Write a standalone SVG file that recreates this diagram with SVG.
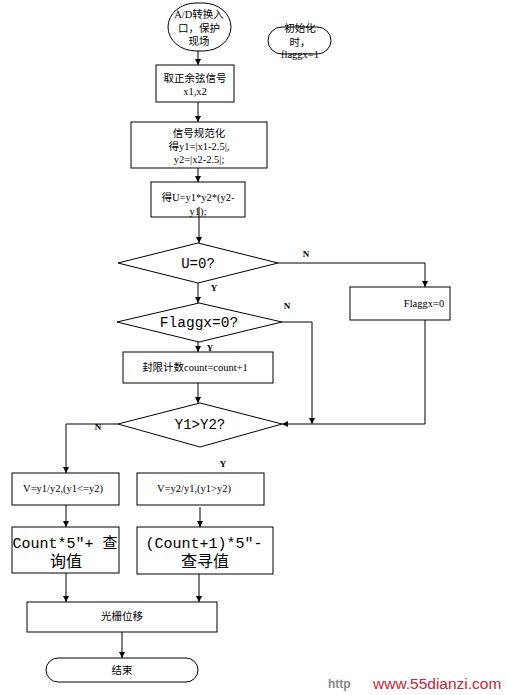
<svg xmlns="http://www.w3.org/2000/svg" width="508" height="695" viewBox="0 0 508 695">
<defs>
<marker id="ah" viewBox="0 0 10 10" refX="10" refY="5" markerWidth="6" markerHeight="9" markerUnits="userSpaceOnUse" orient="auto">
<path d="M0,0 L10,5 L0,10 z" fill="#000"/>
</marker>
<style>
.s{fill:#fff;stroke:#000;stroke-width:1}
.t{font-family:"Liberation Serif","Noto Sans CJK SC",serif;font-size:10.5px;fill:#000;text-anchor:middle}
.m{font-family:"Liberation Mono","Noto Sans CJK SC",monospace;fill:#000;text-anchor:middle}
.l{font-family:"Liberation Serif",serif;font-size:9px;font-weight:bold;fill:#000;text-anchor:middle}
.c{fill:none;stroke:#000;stroke-width:1}
</style>
</defs>
<rect width="508" height="695" fill="#fff"/>

<g id="start">
<rect class="s" x="168" y="3" width="63" height="48" rx="28" ry="24"/>
<text class="t" x="199" y="18">A/D转换入</text>
<text class="t" x="199" y="32">口，保护</text>
<text class="t" x="199" y="45">现场</text>
</g>

<g id="init">
<rect class="s" x="268" y="27" width="63" height="27" rx="14" ry="13.5"/>
<text class="t" x="300" y="32">初始化</text>
<text class="t" x="300" y="46">时，</text>
<text class="t" x="300" y="58">flaggx=1</text>
</g>

<g id="box1">
<rect class="s" x="156" y="65" width="78" height="37"/>
<text class="t" x="195" y="82">取正余弦信号</text>
<text class="t" x="195" y="95">x1,x2</text>
</g>

<g id="box2">
<rect class="s" x="131" y="122" width="136" height="46"/>
<text class="t" x="199" y="137">信号规范化</text>
<text class="t" x="199" y="150">得y1=|x1-2.5|,</text>
<text class="t" x="199" y="163">y2=|x2-2.5|;</text>
</g>

<g id="box3">
<rect class="s" x="151" y="182" width="94" height="35"/>
<text class="t" x="198" y="201">得U=y1*y2*(y2-</text>
<text class="t" x="198" y="215">y1);</text>
</g>

<g id="dec1">
<polygon class="s" points="198,243 278,263 198,283 118,263"/>
<text class="m" x="198" y="268" font-size="14">U=0?</text>
</g>

<g id="flagbox">
<rect class="s" x="350" y="287" width="100" height="33"/>
<text class="t" x="424" y="307">Flaggx=0</text>
</g>

<g id="dec2">
<polygon class="s" points="199,303 282,322 199,342 117,322"/>
<text class="m" x="199" y="327" font-size="14.5">Flaggx=0?</text>
</g>

<g id="countbox">
<rect class="s" x="123" y="352" width="150" height="31"/>
<text class="t" x="195" y="371">封限计数count=count+1</text>
</g>

<g id="dec3">
<polygon class="s" points="200,403 282,424 200,447 118,424"/>
<text class="m" x="200" y="429" font-size="14">Y1&gt;Y2?</text>
</g>

<g id="vleft">
<rect class="s" x="12" y="473" width="107" height="32"/>
<text class="t" x="63" y="492" font-size="9.5">V=y1/y2,(y1&lt;=y2)</text>
</g>

<g id="vright">
<rect class="s" x="137" y="473" width="127" height="32"/>
<text class="t" x="194" y="492" font-size="9.5">V=y2/y1,(y1&gt;y2)</text>
</g>

<g id="cleft">
<rect class="s" x="12" y="527" width="107" height="46"/>
<text class="m" x="65" y="548" font-size="15">Count*5″+ 查</text>
<text class="m" x="66" y="567" font-size="16">询值</text>
</g>

<g id="cright">
<rect class="s" x="137" y="527" width="136" height="47"/>
<text class="m" x="204" y="548" font-size="15">(Count+1)*5″-</text>
<text class="m" x="205" y="567" font-size="16">查寻值</text>
</g>

<g id="shift">
<rect class="s" x="27" y="602" width="190" height="30"/>
<text class="t" x="122" y="620">光栅位移</text>
</g>

<g id="end">
<rect class="s" x="46" y="658" width="152" height="24" rx="12" ry="12"/>
<text class="t" x="122" y="674">结束</text>
</g>

<g id="connectors">
<line class="c" x1="198" y1="51" x2="198" y2="65" marker-end="url(#ah)"/>
<line class="c" x1="198" y1="102" x2="198" y2="122" marker-end="url(#ah)"/>
<line class="c" x1="198" y1="168" x2="198" y2="182" marker-end="url(#ah)"/>
<line class="c" x1="199" y1="207" x2="199" y2="243" marker-end="url(#ah)"/>
<line class="c" x1="198" y1="283" x2="198" y2="303" marker-end="url(#ah)"/>
<polyline class="c" points="278,263 425,263 425,287" marker-end="url(#ah)"/>
<line class="c" x1="198" y1="342" x2="198" y2="352" marker-end="url(#ah)"/>
<polyline class="c" points="282,322 312,322 312,424" marker-end="url(#ah)"/>
<polyline class="c" points="425,320 425,424 282,424" marker-end="url(#ah)"/>
<line class="c" x1="198" y1="383" x2="198" y2="403" marker-end="url(#ah)"/>
<polyline class="c" points="118,424 66,424 66,473" marker-end="url(#ah)"/>
<line class="c" x1="66" y1="505" x2="66" y2="527" marker-end="url(#ah)"/>
<line class="c" x1="200" y1="507" x2="200" y2="527" marker-end="url(#ah)"/>
<line class="c" x1="66" y1="573" x2="66" y2="602" marker-end="url(#ah)"/>
<line class="c" x1="199" y1="574" x2="199" y2="602" marker-end="url(#ah)"/>
<line class="c" x1="122" y1="632" x2="122" y2="658" marker-end="url(#ah)"/>
<text class="l" x="306" y="257">N</text>
<text class="l" x="214" y="291">Y</text>
<text class="l" x="287" y="309">N</text>
<text class="l" x="210" y="351">Y</text>
<text class="l" x="98" y="430">N</text>
<text class="l" x="223" y="467">Y</text>
</g>

<g id="watermark">
<text x="328" y="688" font-family="Liberation Sans,sans-serif" font-size="12" font-weight="bold" fill="#8a8a8a">http</text>
<text x="373" y="689" font-family="Liberation Sans,sans-serif" font-size="15.5" fill="#c8243a">www.55dianzi.com</text>
</g>
</svg>
